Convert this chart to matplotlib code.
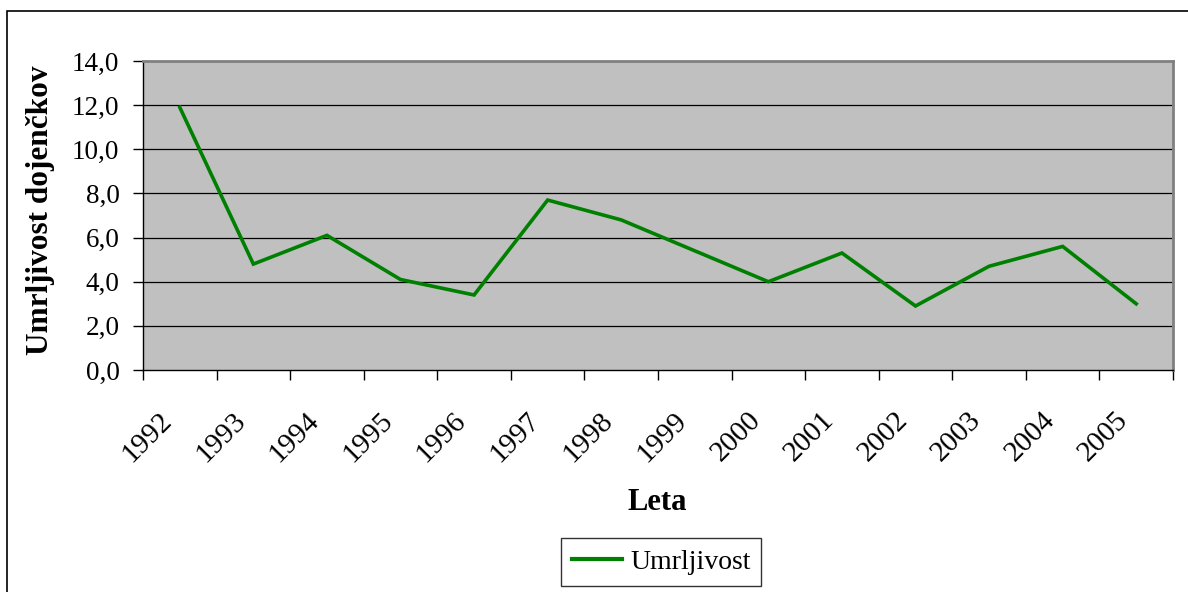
import numpy as np
import matplotlib
matplotlib.use('Agg')
from matplotlib import pyplot as plt
from matplotlib.patches import Rectangle
from matplotlib.lines import Line2D
from matplotlib.transforms import ScaledTranslation

plt.rcParams['font.family'] = ['Liberation Serif', 'DejaVu Serif']

years = ['1992', '1993', '1994', '1995', '1996', '1997', '1998',
         '1999', '2000', '2001', '2002', '2003', '2004', '2005']
umrljivost = [11.9, 4.8, 6.1, 4.1, 3.4, 7.7, 6.8,
              5.4, 4.0, 5.3, 2.9, 4.7, 5.6, 3.0]
y_ticks = [0, 2, 4, 6, 8, 10, 12, 14]

W, H = 1188, 592
fs = 19.5
green = '#008000'

fig = plt.figure(figsize=(W / 100, H / 100), dpi=100)
ax = fig.add_axes([143 / W, 1 - 370 / H, 1030 / W, 309 / H])
ax.set_facecolor('#c0c0c0')

x = np.arange(len(years))
ax.plot(x, umrljivost, color=green, lw=2.6, solid_joinstyle='miter', zorder=3)

ax.set_xlim(-0.5, len(years) - 0.5)
ax.set_ylim(0, 14)

# y axis, decimal comma
ax.set_yticks(y_ticks)
ax.set_yticklabels([('%.1f' % v).replace('.', ',') for v in y_ticks])
ax.yaxis.set_tick_params(length=7, width=1, pad=10, labelsize=fs, color='black')
for v in y_ticks[1:-1]:
    ax.axhline(v, color='black', lw=0.9, zorder=1)

# x axis: ticks on category borders, labels in the middle
ax.set_xticks(np.arange(-0.5, len(years), 1.0))
ax.set_xticklabels([])
ax.xaxis.set_tick_params(which='major', length=7, width=1, color='black')
ax.set_xticks(x, minor=True)
ax.set_xticklabels(years, minor=True, rotation=45, ha='right', va='center',
                   rotation_mode='anchor', fontsize=21)
ax.xaxis.set_tick_params(which='minor', length=0, pad=24)
shift = ScaledTranslation(-12 / 100, -13 / 100, fig.dpi_scale_trans)
for lab in ax.get_xticklabels(minor=True):
    lab.set_transform(lab.get_transform() + shift)

for side in ['top', 'right']:
    ax.spines[side].set_color('#808080')
    ax.spines[side].set_linewidth(2)
for side in ['left', 'bottom']:
    ax.spines[side].set_color('black')
    ax.spines[side].set_linewidth(1)

fig.text(41 / W, 1 - 210 / H, 'Umrljivost dojenčkov', rotation=90,
         ha='center', va='center', fontsize=22.5, fontweight='bold')
fig.text(657 / W, 1 - 502 / H, 'Leta', ha='center', va='center',
         fontsize=22, fontweight='bold')

handle = Line2D([], [], color=green, lw=3)
leg = fig.legend([handle], ['Umrljivost'], loc='center',
                 bbox_to_anchor=(661 / W, 1 - 562 / H), fontsize=20,
                 frameon=True, fancybox=False, shadow=False,
                 handlelength=1.8, handletextpad=0.3, borderpad=0.4,
                 borderaxespad=0)
leg.get_frame().set_edgecolor('black')
leg.get_frame().set_linewidth(1)

# outer chart frame (clipped by the image on the right and at the bottom)
fig.patches.append(Rectangle((7 / W, -0.1), 1.2, 1 - 11 / H + 0.1,
                             transform=fig.transFigure, fill=False,
                             edgecolor='black', lw=1.2))

fig.savefig('out.png', dpi=100)
